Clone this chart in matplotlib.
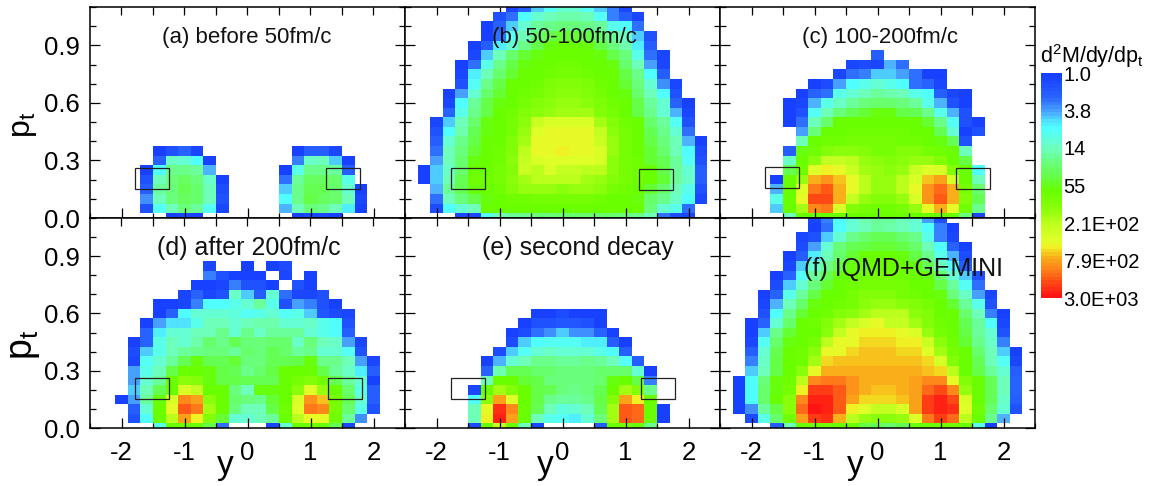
import numpy as np
import matplotlib
matplotlib.use("Agg")
import matplotlib.pyplot as plt
from matplotlib.colors import LinearSegmentedColormap, LogNorm
from matplotlib.ticker import MultipleLocator, FixedLocator
from matplotlib.patches import Rectangle
from matplotlib.cm import ScalarMappable

plt.rcParams['font.family'] = ['Liberation Sans', 'DejaVu Sans']
plt.rcParams['mathtext.fontset'] = 'custom'
plt.rcParams['mathtext.rm'] = 'Liberation Sans'
plt.rcParams['mathtext.default'] = 'regular'
plt.rcParams['axes.unicode_minus'] = False

W, H = 1151, 486
_ = -1  # empty cell

# Values are read from the picture as a position on the log colour bar:
# 0 is 1.0 and 100 is 3.0E+03. Each row, from pt = 0 up: (first rapidity bin, cells)
y_centres = [-2.4, -2.2, -2.0, -1.8, -1.6, -1.4, -1.2, -1.0, -0.8, -0.6, -0.4, -0.2, 0.0,
             0.2, 0.4, 0.6, 0.8, 1.0, 1.2, 1.4, 1.6, 1.8, 2.0, 2.2, 2.4]
pt_centres = [0.00, 0.05, 0.10, 0.15, 0.20, 0.25, 0.30, 0.35, 0.40, 0.45, 0.50, 0.55, 0.60,
              0.65, 0.70, 0.75, 0.80, 0.85, 0.90, 0.95, 1.00, 1.05, 1.10]

panel_a = [
 (6, [0,3,0,_,_,_,_,_,_,_,0,3,3,0]),
 (4, [6,25,34,40,37,25,3,_,_,_,_,18,33,40,38,33,22,0]),
 (4, [15,33,40,43,41,33,6,_,_,_,_,24,38,46,43,41,33,2]),
 (4, [8,36,40,44,42,34,4,_,_,_,_,20,38,44,44,42,30,0]),
 (4, [5,33,40,43,40,32,0,_,_,_,_,12,37,43,43,42,28]),
 (4, [0,24,38,38,36,18,_,_,_,_,_,0,28,38,38,36,8]),
 (5, [10,32,30,24,0,_,_,_,_,_,_,13,32,33,20,0]),
 (5, [0,5,10,3,_,_,_,_,_,_,_,0,8,8,3]),
]
panel_b = [
 (4, [2,2,26,34,36,38,40,40,42,42,42,42,42,40,38,34,12,4,3]),
 (2, [4,24,30,34,52,52,52,52,52,52,52,52,52,52,52,52,52,40,30,28,12]),
 (2, [12,33,40,46,50,52,54,54,56,56,56,56,56,54,53,52,50,42,38,32,24,3]),
 (2, [18,36,44,50,52,54,58,62,62,62,60,62,62,60,56,54,52,48,42,33,28,6]),
 (1, [0,20,34,44,54,54,56,60,64,66,66,66,66,64,62,58,55,54,52,48,36,32,8]),
 (1, [0,20,32,42,52,52,55,58,70,66,72,68,68,66,66,60,56,54,52,46,36,30,8]),
 (2, [16,33,42,50,52,54,60,68,72,74,74,74,74,72,60,56,54,48,44,36,25,6]),
 (2, [12,33,40,48,52,54,58,66,75,75,77,75,75,72,62,56,53,48,42,34,24,4]),
 (2, [8,30,38,46,52,53,58,64,75,75,75,75,75,70,62,55,52,46,40,33,18,0]),
 (2, [5,24,35,44,50,53,56,62,74,75,75,75,75,68,60,55,52,44,38,30,12]),
 (2, [2,20,33,42,50,52,56,60,70,72,72,72,72,64,58,54,52,42,36,26,6]),
 (3, [10,28,38,46,52,54,58,60,62,64,64,63,58,55,52,46,38,30,18,2]),
 (3, [3,24,36,46,50,53,56,58,60,62,62,60,57,54,52,46,36,30,10,0]),
 (3, [0,16,30,42,48,52,54,56,58,60,60,58,55,53,50,42,34,24,6]),
 (4, [6,26,38,46,52,53,54,57,58,58,57,54,52,48,40,30,15,2]),
 (4, [2,22,33,42,48,52,53,54,55,55,54,53,52,46,38,24,8]),
 (4, [0,12,28,38,46,50,52,53,54,54,53,52,50,42,34,17,3]),
 (5, [2,20,34,42,48,50,52,53,53,52,50,46,40,28,12,2]),
 (5, [0,8,22,30,38,46,50,52,52,50,46,40,35,22,8]),
 (6, [0,12,26,34,42,46,48,48,46,42,36,32,20,5]),
 (6, [0,10,20,30,36,38,40,40,38,36,28,24,12]),
 (7, [5,12,24,30,33,35,35,33,26,14,8,3]),
 (8, [3,8,20,26,30,30,26,20,14,3]),
]
panel_c = [
 (5, [34,52,52,52,52,52,52,52,52,52,52,52,52,52,40,3]),
 (4, [20,52,64,86,88,73,58,56,54,54,56,62,76,82,76,54,38]),
 (4, [28,52,76,93,93,82,68,62,58,58,62,72,85,91,82,58,44]),
 (4, [18,52,74,88,91,82,75,66,62,62,66,75,85,90,82,56,42]),
 (4, [0,52,62,82,85,80,75,66,62,62,66,72,80,83,72,52,34]),
 (5, [44,54,74,78,76,70,64,62,60,62,70,74,73,58,52,24]),
 (5, [32,52,60,68,68,66,62,60,58,60,62,62,58,52,46]),
 (5, [8,50,54,58,60,60,58,56,56,58,58,56,54,52,34]),
 (6, [33,52,54,54,56,56,56,55,54,54,52,50,44,5]),
 (6, [17,40,52,52,54,54,54,54,54,52,52,44,30,1,6]),
 (5, [0,12,33,42,52,52,52,52,52,52,52,48,38,26,5,1]),
 (5, [0,6,26,33,40,44,48,50,50,46,44,38,28,18,6]),
 (5, [0,3,18,28,32,36,40,42,42,40,36,28,18,6,1]),
 (6, [1,10,12,28,30,34,36,35,33,28,24,8,3,0]),
 (7, [1,4,17,24,28,30,28,24,12,10,3]),
 (9, [2,12,14,19,20,17,12,1,1]),
 (10, [3,4,3,18,12]),
 (12, [8]),
]
panel_d = [
 (5, [28,52,52,52,46,12,_,_,_,2,30,52,52,52,44,2]),
 (3, [6,24,52,66,84,78,58,48,30,30,33,36,52,66,75,75,54,36,15]),
 (3, [8,30,52,75,92,89,64,52,40,34,34,46,54,74,88,86,56,42,28,6]),
 (2, [0,16,36,50,72,87,83,60,52,42,40,38,48,53,73,85,80,55,44,30,8]),
 (3, [20,34,44,52,72,68,52,52,40,34,50,50,52,60,74,62,52,42,28,8]),
 (3, [16,30,36,52,60,58,50,46,46,44,44,44,52,56,58,54,44,36,30,1]),
 (3, [16,28,34,46,52,52,50,46,44,38,42,46,52,52,52,46,36,32,22,8]),
 (3, [2,26,30,36,44,50,44,44,48,40,40,44,44,46,50,38,38,34,16,2]),
 (3, [4,19,28,34,36,38,40,40,37,42,40,44,42,36,38,30,30,26,6]),
 (3, [1,10,28,33,30,35,42,38,44,40,40,42,42,32,40,34,32,16,2]),
 (4, [10,23,30,30,34,34,38,30,38,32,36,36,36,31,28,24,9]),
 (4, [1,16,21,21,27,34,34,31,33,35,35,31,30,32,27,24,6]),
 (5, [1,10,24,30,31,31,29,26,28,31,25,28,20,7,4,3]),
 (5, [1,1,2,14,24,24,28,30,36,28,6,17,14,6,1]),
 (7, [2,10,2,6,32,20,8,30,11,2,2,6]),
 (8, [1,1,2,14,6,6,1,_,6,1]),
 (9, [14,6,1,1,1,_,2,_,1]),
 (9, [2,_,_,1,_,0,4]),
]
panel_e = [
 (5, [4,52,70,52,34,2,_,_,_,_,8,52,56,52,38]),
 (5, [34,77,97,84,52,33,27,25,23,30,40,64,91,90,52,0]),
 (5, [34,75,96,87,52,44,33,29,31,34,44,64,92,90,52,0]),
 (5, [24,60,84,74,52,46,38,36,36,38,46,58,84,78,52]),
 (5, [2,52,64,58,52,46,44,40,38,40,44,52,63,58,38]),
 (6, [33,52,52,48,46,40,40,40,40,42,50,52,46,14]),
 (6, [10,35,44,44,42,42,40,40,40,42,42,42,30,1]),
 (6, [1,18,31,34,38,38,36,36,38,36,34,26,8]),
 (7, [4,19,25,30,32,30,30,30,28,24,8]),
 (8, [4,19,24,26,26,26,22,22,9,1]),
 (8, [0,4,11,15,19,15,15,10,1]),
 (9, [1,5,5,7,7,6,1]),
 (10, [1,1,4,1,1,0]),
]
panel_f = [
 (4, [8,34,52,54,54,52,52,46,44,42,44,50,52,54,54,52,28,1]),
 (2, [4,28,42,54,84,95,96,82,66,62,60,60,62,74,88,94,90,66,52,38,18]),
 (1, [1,15,36,46,60,90,100,98,92,77,74,68,68,72,84,94,98,96,74,54,42,30,6]),
 (1, [1,24,42,52,60,87,98,98,92,83,79,79,79,80,84,94,98,93,72,53,44,32,8]),
 (1, [1,24,42,50,56,78,94,94,91,85,82,80,80,82,84,90,93,86,62,52,44,34,10]),
 (1, [1,24,40,50,54,66,86,88,88,85,82,82,82,82,83,87,87,75,58,52,44,34,10]),
 (2, [20,34,46,52,60,76,82,82,82,82,82,82,82,82,80,79,66,52,46,36,30,8]),
 (2, [14,32,46,52,54,64,79,81,81,81,81,81,81,81,79,72,58,52,44,34,26,3]),
 (2, [8,30,44,52,54,60,75,76,79,81,81,81,79,79,74,64,56,52,42,34,20,1]),
 (2, [2,26,42,50,52,56,66,75,76,79,79,79,77,77,70,60,54,48,38,32,14]),
 (2, [1,20,38,48,52,53,60,68,76,77,77,77,76,72,62,56,52,46,36,30,6]),
 (2, [1,10,30,42,52,54,58,64,68,72,75,68,68,64,58,54,52,44,36,24,2]),
 (3, [6,24,38,48,52,54,58,60,64,66,66,66,60,58,53,52,42,34,14,1]),
 (3, [2,18,33,42,50,52,54,56,60,62,62,60,58,56,52,48,36,28,6]),
 (3, [1,10,27,36,46,52,53,56,58,58,58,56,54,53,50,40,32,17,2]),
 (4, [4,20,30,40,48,52,54,55,56,56,55,53,52,46,36,26,12]),
 (4, [1,10,26,36,44,50,53,54,55,55,54,52,50,42,30,20,6]),
 (5, [2,20,30,38,46,50,52,53,53,52,50,44,34,24,8]),
 (5, [1,8,22,33,42,48,52,52,52,50,46,38,28,18,4]),
 (6, [4,16,30,40,44,46,48,48,46,42,33,24,10,1]),
 (6, [2,6,20,31,38,42,44,44,42,38,28,14,3]),
 (7, [1,12,24,30,34,36,35,34,30,24,14,1]),
 (7, [2,14,24,31,35,37,36,34,30,16,5]),
]
panels = [panel_a, panel_b, panel_c, panel_d, panel_e, panel_f]
panel_titles = ["(a) before 50fm/c", "(b) 50-100fm/c", "(c) 100-200fm/c",
                "(d) after 200fm/c", "(e) second decay", "(f) IQMD+GEMINI"]
title_sizes = [16, 16, 16, 18, 18, 18]
title_pixels = [(246.6, 37), (564.7, 37), (880, 37), (249, 248), (577.5, 248), (903, 269)]
window_left = [[(-1.78, 0.15)], [(-1.77, 0.15)], [(-1.78, 0.155)],
               [(-1.78, 0.15)], [(-1.77, 0.15)], []]
window_right = [[(1.24, 0.15)], [(1.22, 0.145)], [(1.25, 0.15)],
                [(1.27, 0.15)], [(1.25, 0.15)], []]
window_size = (0.54, 0.11)

cbar_ticks = [1.0, 3.8, 14, 55, 210, 790, 3000]
cbar_labels = ["1.0", "3.8", "14", "55", "2.1E+02", "7.9E+02", "3.0E+03"]
yticks_major = [0.0, 0.3, 0.6, 0.9]
xticks_major = [-2, -1, 0, 1, 2]

nodes = [(0.00, (24, 64, 255)), (0.10, (40, 100, 255)), (0.17, (77, 170, 255)),
         (0.20, (80, 220, 255)), (0.24, (80, 255, 255)), (0.33, (110, 255, 190)),
         (0.40, (105, 255, 120)), (0.46, (100, 255, 70)), (0.52, (105, 255, 0)),
         (0.60, (135, 255, 10)), (0.67, (190, 255, 30)), (0.75, (225, 255, 40)),
         (0.78, (240, 240, 35)), (0.80, (245, 205, 30)), (0.83, (250, 170, 25)),
         (0.88, (255, 130, 25)), (0.94, (255, 70, 20)), (1.00, (255, 20, 20))]
cmap = LinearSegmentedColormap.from_list(
    "rb", [(p, tuple(c / 255 for c in rgb)) for p, rgb in nodes], N=64)
norm = LogNorm(1, 3000)

y_edges = np.array(y_centres) - 0.1
y_edges = np.append(y_edges, y_centres[-1] + 0.1)
pt_edges = np.array(pt_centres) - 0.025
pt_edges = np.append(pt_edges, pt_centres[-1] + 0.025)

fig = plt.figure(figsize=(W / 100, H / 100), dpi=100, facecolor='white')


def grid_of(rows):
    g = np.full((len(pt_centres), len(y_centres)), np.nan)
    for j, (first, cells) in enumerate(rows):
        for k, level in enumerate(cells):
            if level >= 0:
                g[j, first + k] = 3000.0 ** (level / 100)
    return g


lefts = [90, 405, 720]
rows_px = [(7, 218), (218, 428)]
for n, rows in enumerate(panels):
    col, row = n % 3, n // 3
    top, bottom = rows_px[row]
    ax = fig.add_axes([lefts[col] / W, 1 - bottom / H, 315 / W, (bottom - top) / H])
    ax.pcolormesh(y_edges, pt_edges, grid_of(rows), cmap=cmap, norm=norm, shading='flat')
    ax.set_xlim(-2.5, 2.5)
    ax.set_ylim(0, 1.1)
    ax.xaxis.set_major_locator(FixedLocator(xticks_major))
    ax.xaxis.set_minor_locator(MultipleLocator(0.5))
    ax.yaxis.set_major_locator(FixedLocator(yticks_major))
    ax.yaxis.set_minor_locator(MultipleLocator(0.1))
    ax.tick_params(axis='x', which='major', direction='in', length=7.5, width=0.9,
                   top=False, bottom=True, labelsize=18.5, pad=9, labelbottom=row == 1)
    ax.tick_params(axis='x', which='minor', direction='in', length=3.5, width=0.9,
                   top=False, bottom=True)
    ax.tick_params(axis='y', which='major', direction='in', length=7.5, width=0.9,
                   left=True, right=True, labelsize=18.5, pad=7.5, labelleft=col == 0)
    ax.tick_params(axis='y', which='minor', direction='in', length=4.5, width=0.9,
                   left=True, right=True)
    sec = ax.secondary_xaxis('top')
    sec.set_xticks(np.arange(-2.0, 2.5, 0.5))
    sec.tick_params(axis='x', direction='in', length=6, width=0.9, labeltop=False)
    sec.spines['top'].set_visible(False)
    for s in ax.spines.values():
        s.set_linewidth(1.1)
    for (x0, p0) in window_left[n] + window_right[n]:
        ax.add_patch(Rectangle((x0, p0), window_size[0], window_size[1], fill=False,
                               ec='#222222', lw=0.9, zorder=3))
    px, py = title_pixels[n]
    fig.text(px / W, 1 - py / H, panel_titles[n], fontsize=title_sizes[n],
             ha='center', va='center', color='#111111', zorder=5)

# axis labels
fig.text(24 / W, 1 - 125 / H, r'p$_{t}$', rotation=90, fontsize=23, ha='center', va='center')
fig.text(24 / W, 1 - 345 / H, r'p$_{t}$', rotation=90, fontsize=27, ha='center', va='center')
for xp in (225, 545, 855):
    fig.text(xp / W, 1 - 465 / H, 'y', fontsize=24, ha='center', va='center')

# colour bar
cax = fig.add_axes([1041 / W, 1 - 298 / H, 21 / W, 224.5 / H])
cb = fig.colorbar(ScalarMappable(norm=norm, cmap=cmap), cax=cax)
cax.invert_yaxis()
cb.outline.set_visible(False)
cb.set_ticks(cbar_ticks)
cb.set_ticklabels(cbar_labels)
cb.minorticks_off()
cax.tick_params(length=0, labelsize=14.5, pad=1.2)
fig.text(1092 / W, 1 - 56 / H, r'd$^{2}$M/dy/dp$_{t}$', fontsize=15.5, ha='center', va='center')

fig.savefig('out.png', dpi=100, facecolor='white')
